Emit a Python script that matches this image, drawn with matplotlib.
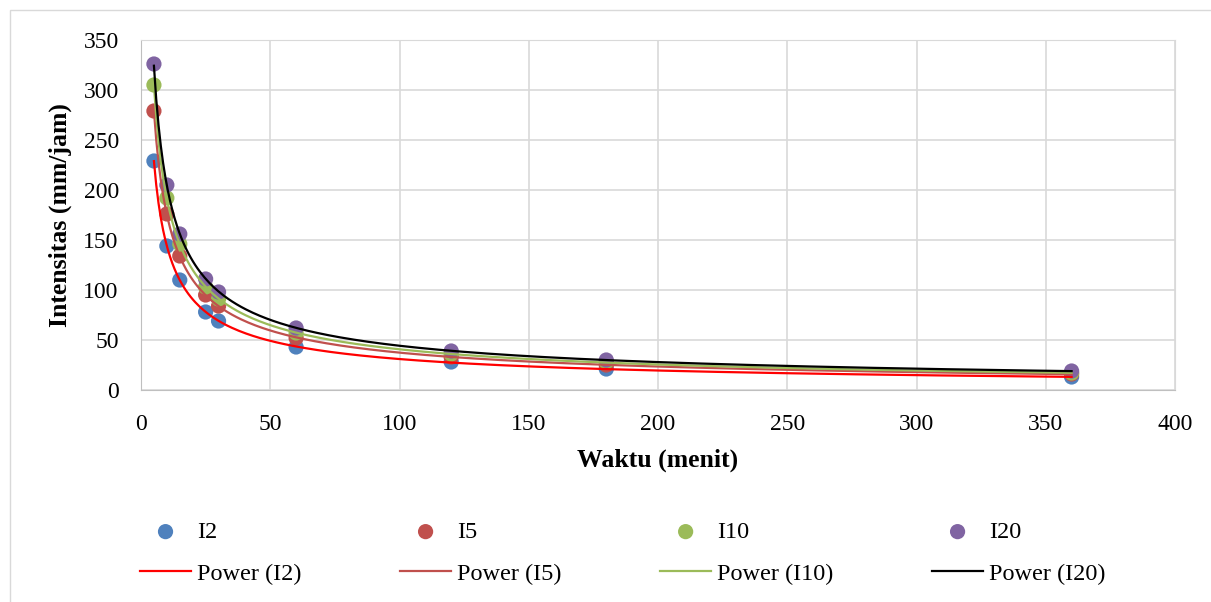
import numpy as np
import matplotlib
matplotlib.use("Agg")
import matplotlib.pyplot as plt
from matplotlib.patches import Rectangle

plt.rcParams["font.family"] = ["Liberation Serif", "DejaVu Serif"]

waktu = [5, 10, 15, 25, 30, 60, 120, 180, 360]
i2 = [229, 144, 110, 78, 69, 43, 28, 21, 13]
i5 = [279, 176, 134, 95, 84, 52, 33, 25, 16]
i10 = [305, 192, 146, 103, 91, 57, 36, 28, 17]
i20 = [326, 205, 156, 111, 98, 62, 39, 30, 19]

series = [
    ("I2", i2, "#4F81BD", "#FF0000"),
    ("I5", i5, "#C0504D", "#C0504D"),
    ("I10", i10, "#9BBB59", "#9BBB59"),
    ("I20", i20, "#8064A2", "#000000"),
]

fig = plt.figure(figsize=(12.11, 6.02), dpi=100)
fig.patches.append(Rectangle((10 / 1211, -0.1), 1.2, (592 / 602) + 0.1,
                             transform=fig.transFigure, fill=False,
                             edgecolor="#d9d9d9", linewidth=1))
ax = fig.add_axes([141 / 1211, 1 - 390 / 602, 1034 / 1211, 350 / 602])

x = np.array(waktu, dtype=float)
xs = np.linspace(x.min(), x.max(), 400)
handles = []
for name, vals, mcol, lcol in series:
    y = np.array(vals, dtype=float)
    # power trend line (log-log fit, like Excel)
    b, loga = np.polyfit(np.log(x), np.log(y), 1)
    sc = ax.scatter(x, y, s=120, color=mcol, zorder=3, label=name, edgecolors="none")
    ln, = ax.plot(xs, np.exp(loga) * xs ** b, color=lcol, lw=1.6, zorder=4,
                  label=f"Power ({name})")
    handles += [sc, ln]

ax.set_xlim(0, 400)
ax.set_ylim(0, 350)
ax.set_xticks(range(0, 401, 50))
ax.set_yticks(range(0, 351, 50))
ax.grid(color="#d9d9d9", lw=1.2)
ax.set_axisbelow(True)
for s in ax.spines.values():
    s.set_color("#d9d9d9")
ax.spines["bottom"].set_color("#bfbfbf")
ax.spines["left"].set_color("#bfbfbf")
ax.tick_params(length=0, labelsize=17)
ax.tick_params(axis="x", pad=17)
ax.tick_params(axis="y", pad=16)
ax.set_xlabel("Waktu (menit)", fontsize=18.5, fontweight="bold", labelpad=10)
ax.set_ylabel("Intensitas (mm/jam)", fontsize=18.5, fontweight="bold", labelpad=8)

fig.legend(handles=handles, ncol=4, loc="upper left",
           bbox_to_anchor=(140 / 1211, 1 - 521 / 602),
           borderpad=0, borderaxespad=0,
           frameon=False, fontsize=17.5, columnspacing=4.05, handlelength=2.1,
           handletextpad=0.25, labelspacing=0.82, scatterpoints=1)

fig.savefig("out.png", dpi=100)
